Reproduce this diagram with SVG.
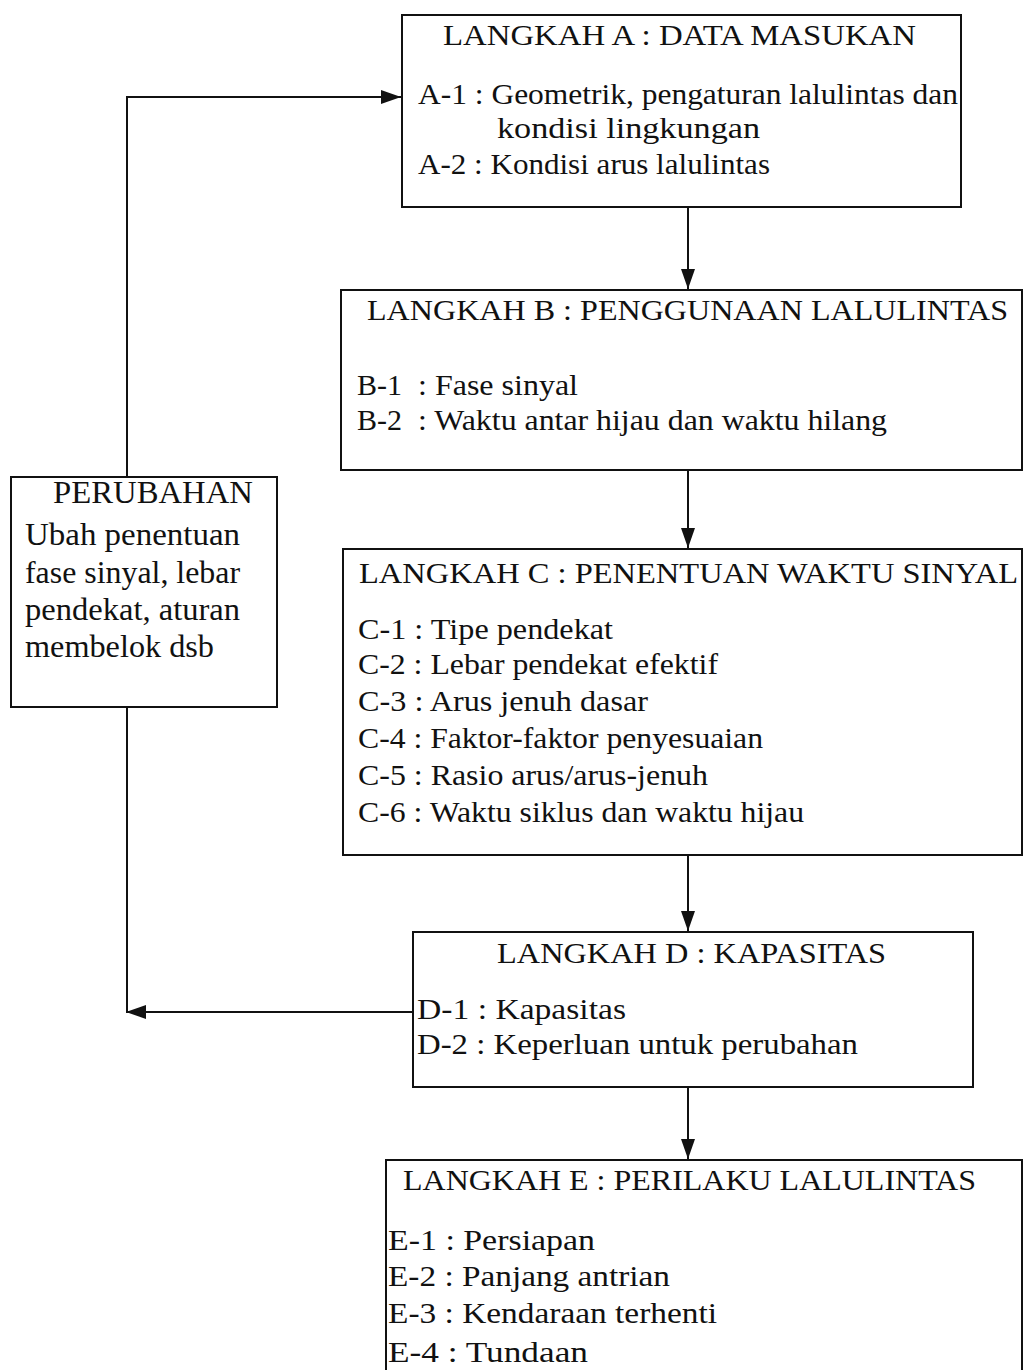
<svg xmlns="http://www.w3.org/2000/svg" width="1024" height="1370" viewBox="0 0 1024 1370">
<style>
.box{fill:#fff;stroke:#111;stroke-width:2}
.t{font-family:"Liberation Serif","Times New Roman",serif;font-size:30px;fill:#111}
.p{font-family:"Liberation Serif","Times New Roman",serif;font-size:32px;fill:#111}
.ln{fill:none;stroke:#111;stroke-width:2}
</style>
<defs>
<marker id="ahb" viewBox="0 0 20 14" refX="20" refY="7" markerWidth="20" markerHeight="14" markerUnits="userSpaceOnUse" orient="auto">
<path d="M0,0 L20,7 L0,14 z" fill="#111"/>
</marker>
</defs>
<rect width="1024" height="1370" fill="#fff"/>
<g id="connectors">
<path class="ln" d="M127,478 L127,97 L401,97" marker-end="url(#ahb)"/>
<path class="ln" d="M688,207 L688,289" marker-end="url(#ahb)"/>
<path class="ln" d="M688,470 L688,548" marker-end="url(#ahb)"/>
<path class="ln" d="M688,855 L688,931" marker-end="url(#ahb)"/>
<path class="ln" d="M688,1087 L688,1159" marker-end="url(#ahb)"/>
<path class="ln" d="M413,1012 L126,1012" marker-end="url(#ahb)"/>
<path class="ln" d="M127,707 L127,1012"/>
</g>
<g id="nodeA">
<rect class="box" x="402" y="15" width="559" height="192"/>
<text class="t" x="443" y="45" textLength="473" lengthAdjust="spacingAndGlyphs">LANGKAH A : DATA MASUKAN</text>
<text class="t" x="418" y="104" textLength="540" lengthAdjust="spacingAndGlyphs">A-1 : Geometrik, pengaturan lalulintas dan</text>
<text class="t" x="497" y="138" textLength="263" lengthAdjust="spacingAndGlyphs">kondisi lingkungan</text>
<text class="t" x="418" y="174" textLength="352" lengthAdjust="spacingAndGlyphs">A-2 : Kondisi arus lalulintas</text>
</g>
<g id="nodeB">
<rect class="box" x="341" y="290" width="681" height="180"/>
<text class="t" x="367" y="320" textLength="641" lengthAdjust="spacingAndGlyphs">LANGKAH B : PENGGUNAAN LALULINTAS</text>
<text class="t" x="357" y="395">B-1<tspan x="418" textLength="160" lengthAdjust="spacingAndGlyphs">: Fase sinyal</tspan></text>
<text class="t" x="357" y="430">B-2<tspan x="418" textLength="469" lengthAdjust="spacingAndGlyphs">: Waktu antar hijau dan waktu hilang</tspan></text>
</g>
<g id="nodeC">
<rect class="box" x="343" y="549" width="679" height="306"/>
<text class="t" x="359" y="583" textLength="659" lengthAdjust="spacingAndGlyphs">LANGKAH C : PENENTUAN WAKTU SINYAL</text>
<text class="t" x="358" y="639" textLength="255" lengthAdjust="spacingAndGlyphs">C-1 : Tipe pendekat</text>
<text class="t" x="358" y="674" textLength="360" lengthAdjust="spacingAndGlyphs">C-2 : Lebar pendekat efektif</text>
<text class="t" x="358" y="711" textLength="290" lengthAdjust="spacingAndGlyphs">C-3 : Arus jenuh dasar</text>
<text class="t" x="358" y="748" textLength="405" lengthAdjust="spacingAndGlyphs">C-4 : Faktor-faktor penyesuaian</text>
<text class="t" x="358" y="785" textLength="350" lengthAdjust="spacingAndGlyphs">C-5 : Rasio arus/arus-jenuh</text>
<text class="t" x="358" y="822" textLength="446" lengthAdjust="spacingAndGlyphs">C-6 : Waktu siklus dan waktu hijau</text>
</g>
<g id="nodeD">
<rect class="box" x="413" y="932" width="560" height="155"/>
<text class="t" x="497" y="963" textLength="389" lengthAdjust="spacingAndGlyphs">LANGKAH D : KAPASITAS</text>
<text class="t" x="417" y="1019" textLength="209" lengthAdjust="spacingAndGlyphs">D-1 : Kapasitas</text>
<text class="t" x="417" y="1054" textLength="441" lengthAdjust="spacingAndGlyphs">D-2 : Keperluan untuk perubahan</text>
</g>
<g id="nodeE">
<rect class="box" x="386" y="1160" width="636" height="215"/>
<text class="t" x="403" y="1190" textLength="573" lengthAdjust="spacingAndGlyphs">LANGKAH E : PERILAKU LALULINTAS</text>
<text class="t" x="388" y="1250" textLength="207" lengthAdjust="spacingAndGlyphs">E-1 : Persiapan</text>
<text class="t" x="388" y="1286" textLength="282" lengthAdjust="spacingAndGlyphs">E-2 : Panjang antrian</text>
<text class="t" x="388" y="1323" textLength="329" lengthAdjust="spacingAndGlyphs">E-3 : Kendaraan terhenti</text>
<text class="t" x="388" y="1362" textLength="200" lengthAdjust="spacingAndGlyphs">E-4 : Tundaan</text>
</g>
<g id="nodePerubahan">
<rect class="box" x="11" y="477" width="266" height="230"/>
<text class="p" x="53" y="503" textLength="200" lengthAdjust="spacingAndGlyphs">PERUBAHAN</text>
<text class="p" x="25" y="545" textLength="215" lengthAdjust="spacingAndGlyphs">Ubah penentuan</text>
<text class="p" x="25" y="583" textLength="215" lengthAdjust="spacingAndGlyphs">fase sinyal, lebar</text>
<text class="p" x="25" y="620" textLength="215" lengthAdjust="spacingAndGlyphs">pendekat, aturan</text>
<text class="p" x="25" y="657" textLength="189" lengthAdjust="spacingAndGlyphs">membelok dsb</text>
</g>
</svg>
